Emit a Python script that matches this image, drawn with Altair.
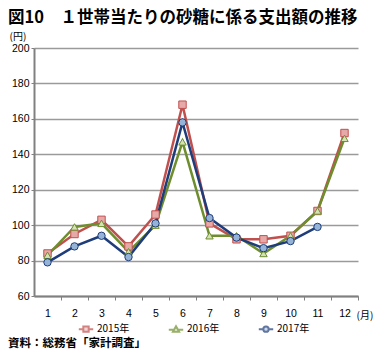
import altair as alt
import pandas as pd

months = list(range(1, 13))
series_names = ["2015年", "2016年", "2017年"]
v2015 = [84, 95, 103, 88, 106, 168, 101, 92, 92, 94, 108, 152]
v2016 = [83, 99, 101, 85, 100, 147, 94, 94, 84, 94, 108, 149]
v2017 = [79, 88, 94, 82, 101, 158, 104, 93, 87, 91, 99, None]
y_ticks = [60, 80, 100, 120, 140, 160, 180, 200]

title_text = "図10　１世帯当たりの砂糖に係る支出額の推移"
source_text = "資料：総務省「家計調査」"

line_colors = ["#C0504D", "#6E8E2E", "#1F3D7A"]
fill_colors = ["#E6A9A8", "#D4E2B6", "#95B3D7"]
marker_shapes = ["square", "triangle-up", "circle"]
legend_shapes = [
    "M-1.8,0H-0.67M0.67,0H1.8M-0.67,-0.67H0.67V0.67H-0.67Z",
    "M-1.8,0.13H-0.43M0.43,0.13H1.8M0,-0.73L0.77,0.63H-0.77Z",
    "M-1.8,0H-0.67M0.67,0H1.8M-0.67,0A0.67,0.67,0,1,1,0.67,0A0.67,0.67,0,1,1,-0.67,0Z",
]

rows = []
for name, vals in zip(series_names, [v2015, v2016, v2017]):
    for m, v in zip(months, vals):
        if v is not None:
            rows.append({"month": m, "value": v, "series": name})
df = pd.DataFrame(rows)

FONT = "Liberation Sans, Noto Sans CJK JP"
CJK = "Noto Sans CJK JP"

x_enc = alt.X(
    "month:O",
    scale=alt.Scale(type="point", padding=0.5),
    axis=alt.Axis(
        title="(月)", titleAngle=0, titleAlign="left", titleBaseline="middle",
        titleX=322, titleY=19, titleFont=CJK, titleFontSize=10, titleFontWeight="normal",
        labelAngle=0, labelFont=FONT, labelFontSize=10.5, labelColor="#000",
        labelPadding=8, labelOffset=-13.5, tickSize=4, tickOffset=13.5, tickColor="#808080",
        domainColor="#808080", domainWidth=2, grid=False,
    ),
)
y_enc = alt.Y(
    "value:Q",
    scale=alt.Scale(domain=[60, 200], nice=False, zero=False),
    axis=alt.Axis(
        values=y_ticks, title="(円)", titleAngle=0, titleAlign="left",
        titleBaseline="middle", titleX=-25, titleY=-12, titleFont=CJK,
        titleFontSize=10, titleFontWeight="normal",
        labelFont=FONT, labelFontSize=10.5, labelColor="#000", labelPadding=2,
        tickSize=3, tickColor="#808080", domainColor="#808080", domainWidth=2,
        grid=True, gridColor="#9A9A9A", gridWidth=1.4,
    ),
)


def stroke_scale():
    return alt.Scale(domain=series_names, range=line_colors)


def fill_scale():
    return alt.Scale(domain=series_names, range=fill_colors)


base = alt.Chart(df)

lines = base.mark_line(strokeWidth=2.5).encode(
    x=x_enc, y=y_enc,
    stroke=alt.Stroke("series:N", scale=stroke_scale(), legend=None),
)

points = base.mark_point(filled=True, size=55, strokeWidth=1, opacity=1).encode(
    x=x_enc, y=y_enc,
    shape=alt.Shape("series:N", scale=alt.Scale(domain=series_names, range=marker_shapes), legend=None),
    fill=alt.Fill("series:N", scale=fill_scale(), legend=None),
    stroke=alt.Stroke("series:N", scale=stroke_scale(), legend=None),
)

leg = alt.Legend(
    orient="none", legendX=47, legendY=276, direction="horizontal", title=None,
    symbolSize=64, symbolStrokeWidth=2, labelOffset=6, columnPadding=34,
    labelFont=CJK, labelFontSize=10, labelColor="#000", padding=0,
)
legend_layer = base.transform_filter("false").mark_point(filled=True, strokeWidth=2).encode(
    x=x_enc, y=y_enc,
    shape=alt.Shape("series:N", scale=alt.Scale(domain=series_names, range=legend_shapes), legend=leg),
    fill=alt.Fill("series:N", scale=fill_scale(), legend=leg),
    stroke=alt.Stroke("series:N", scale=stroke_scale(), legend=leg),
)

title_mark = alt.Chart(pd.DataFrame({"t": [title_text]})).mark_text(
    align="left", baseline="middle", font=CJK, fontSize=16.5, fontWeight="bold", color="#000"
).encode(text="t:N", x=alt.value(-26), y=alt.value(-30))

source_mark = alt.Chart(pd.DataFrame({"t": [source_text]})).mark_text(
    align="left", baseline="middle", font=CJK, fontSize=11.5, fontWeight="bold", color="#000"
).encode(text="t:N", x=alt.value(-26), y=alt.value(296))

chart = alt.layer(lines, points, legend_layer, title_mark, source_mark).resolve_scale(
    shape="independent", stroke="independent", fill="independent"
).resolve_legend(
    shape="independent", stroke="independent", fill="independent"
).properties(
    width=324, height=248,
    autosize=alt.AutoSizeParams(type="none"),
    padding={"left": 26, "top": 40, "right": 20, "bottom": 54},
).configure_view(stroke=None)

chart.save("out.html", embed_options={"renderer": "svg", "actions": False})
